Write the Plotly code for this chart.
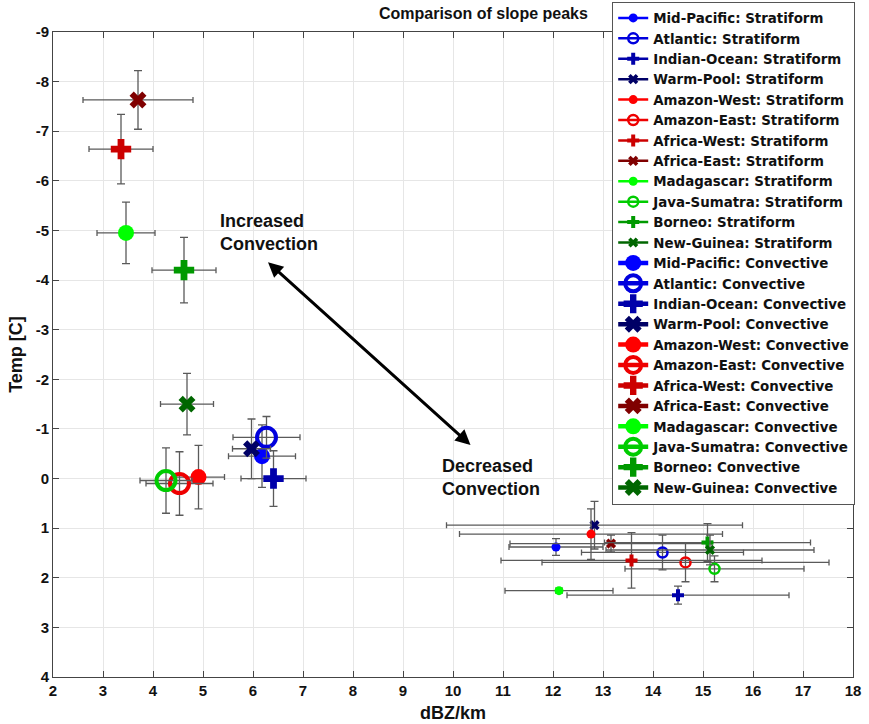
import plotly.graph_objects as go

regions = ["Mid-Pacific", "Atlantic", "Indian-Ocean", "Warm-Pool", "Amazon-West", "Amazon-East",
           "Africa-West", "Africa-East", "Madagascar", "Java-Sumatra", "Borneo", "New-Guinea"]
colors = ["#0000ff", "#0000dd", "#0000aa", "#000066", "#ff0000", "#ee0000",
          "#cc0000", "#800000", "#00ff00", "#00cc00", "#009900", "#006600"]
kinds = ["fill", "open", "plus", "x", "fill", "open", "plus", "x", "fill", "open", "plus", "x"]

# Stratiform peaks
strat_x = [12.06, 14.19, 14.50, 12.83, 12.76, 14.65, 13.57, 13.16, 12.12, 15.23, 15.09, 15.14]
strat_y = [1.38, 1.49, 2.35, 0.94, 1.12, 1.69, 1.65, 1.31, 2.26, 1.82, 1.29, 1.44]
strat_xerr = [0.94, 1.62, 2.22, 2.96, 2.63, 2.87, 2.61, 2.02, 1.08, 1.79, 2.06, 2.08]
strat_yerr = [0.17, 0.35, 0.18, 0.48, 0.51, 0.39, 0.56, 0.17, 0.05, 0.26, 0.38, 0.30]

# Convective peaks
conv_x = [6.18, 6.27, 6.41, 5.97, 4.91, 4.53, 3.36, 3.70, 3.46, 4.26, 4.62, 4.68]
conv_y = [-0.45, -0.83, 0.00, -0.60, -0.03, 0.10, -6.64, -7.63, -4.95, 0.04, -4.20, -1.50]
conv_xerr = [0.67, 0.67, 0.65, 0.38, 0.52, 0.67, 0.64, 1.10, 0.58, 0.52, 0.64, 0.53]
conv_yerr = [0.63, 0.42, 0.56, 0.60, 0.64, 0.64, 0.70, 0.59, 0.62, 0.66, 0.66, 0.62]

x_ticks = list(range(2, 19))
y_ticks = list(range(-9, 5))

ERR_COLOR = "#5a5a5a"

def marker_for(kind, color, big):
    if kind == "fill":
        return dict(symbol="circle", size=16 if big else 9, color=color, line=dict(width=0))
    if kind == "open":
        return dict(symbol="circle-open", size=19 if big else 10, color=color, line=dict(width=4 if big else 2.5, color=color))
    if kind == "plus":
        return dict(symbol="cross", size=17 if big else 10, color=color, line=dict(width=0))
    return dict(symbol="x", size=15 if big else 9, color=color, line=dict(width=0))

fig = go.Figure()

for big, label, xs, ys, xe, ye, lw in [
        (False, "Stratiform", strat_x, strat_y, strat_xerr, strat_yerr, 2.5),
        (True, "Convective", conv_x, conv_y, conv_xerr, conv_yerr, 4.5)]:
    for i, r in enumerate(regions):
        fig.add_trace(go.Scatter(
            x=[xs[i]], y=[ys[i]], mode="lines+markers",
            name=f"{r}: {label}",
            line=dict(color=colors[i], width=lw),
            marker=marker_for(kinds[i], colors[i], big),
            error_x=dict(type="data", array=[xe[i]], symmetric=True, color=ERR_COLOR, thickness=1.3, width=3),
            error_y=dict(type="data", array=[ye[i]], symmetric=True, color=ERR_COLOR, thickness=1.3, width=4),
        ))

fig.add_annotation(x=6.3, y=-4.36, ax=10.38, ay=-0.65, xref="x", yref="y", axref="x", ayref="y",
                   text="", showarrow=True, arrowhead=2, startarrowhead=2, arrowside="end+start",
                   arrowwidth=3, arrowsize=1, startarrowsize=1, arrowcolor="#000000")
fig.add_annotation(x=5.3, y=-4.95, xref="x", yref="y", text="Increased<br>Convection", showarrow=False,
                   xanchor="left", yanchor="middle", align="left",
                   font=dict(size=18, color="#111111", family="Liberation Sans", weight="bold"))
fig.add_annotation(x=9.74, y=-0.02, xref="x", yref="y", text="Decreased<br>Convection", showarrow=False,
                   xanchor="left", yanchor="middle", align="left",
                   font=dict(size=18, color="#111111", family="Liberation Sans", weight="bold"))

axis_common = dict(showgrid=True, gridcolor="#e6e6e6", gridwidth=1, zeroline=False,
                   showline=True, linecolor="#444444", linewidth=1, mirror="ticks",
                   ticks="inside", ticklen=6, tickcolor="#444444",
                   tickfont=dict(size=15, color="#111111", family="Liberation Sans", weight="bold"))

fig.update_layout(
    width=869, height=724,
    margin=dict(l=53, r=16, t=32, b=47, autoexpand=False),
    paper_bgcolor="white", plot_bgcolor="white",
    font=dict(family="Liberation Sans", color="#111111"),
    title=dict(text="Comparison of slope peaks", x=0.538, xanchor="center", xref="paper",
               y=0.981, yanchor="middle", yref="container",
               font=dict(size=16, family="Liberation Sans", weight="bold", color="#111111")),
    xaxis=dict(range=[2, 18], tickvals=x_ticks, ticktext=[str(v) for v in x_ticks],
               title=dict(text="dBZ/km", standoff=8,
                          font=dict(size=18, family="Liberation Sans", weight="bold")),
               **axis_common),
    yaxis=dict(range=[4, -9], tickvals=y_ticks, ticktext=[str(v) for v in y_ticks],
               title=dict(text="Temp [C]", standoff=8,
                          font=dict(size=18, family="Liberation Sans", weight="bold")),
               **axis_common),
    legend=dict(x=0.699, y=1.047, xanchor="left", yanchor="top", xref="paper", yref="paper",
                bgcolor="white", bordercolor="#555555", borderwidth=1, tracegroupgap=0,
                font=dict(size=13.4, family="DejaVu Sans", weight="bold", color="#111111"),
                itemwidth=30, maxheight=1.0),
    showlegend=True,
)

fig.write_html("out.html")
